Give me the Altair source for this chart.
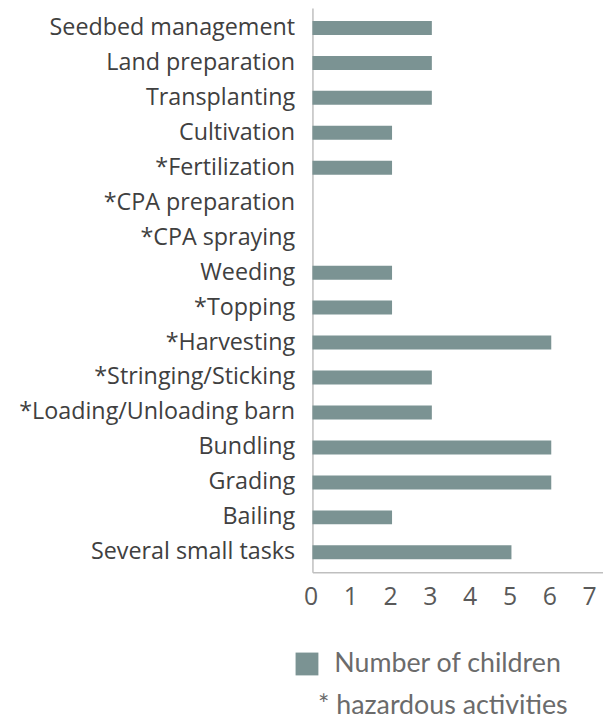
import altair as alt
import pandas as pd

tasks = ["Seedbed management", "Land preparation", "Transplanting", "Cultivation",
         "*Fertilization", "*CPA preparation", "*CPA spraying", "Weeding", "*Topping",
         "*Harvesting", "*Stringing/Sticking", "*Loading/Unloading barn", "Bundling",
         "Grading", "Bailing", "Several small tasks"]
children = [3, 3, 3, 2, 2, 0, 0, 2, 2, 6, 3, 3, 6, 6, 2, 5]
series = ["Number of children"] * len(tasks)
x_ticks = [0, 1, 2, 3, 4, 5, 6, 7]

df = pd.DataFrame({"task": tasks, "value": children, "series": series})

AXFONT = "Open Sans"
LGFONT = "Lato"

chart = alt.Chart(df).mark_bar(color="#7b9393").encode(
    y=alt.Y("task:N", sort=tasks, title=None,
            scale=alt.Scale(paddingInner=0.6, paddingOuter=0.37),
            axis=alt.Axis(labelFont=AXFONT, labelFontSize=23.5, labelColor="#404040",
                          labelPadding=18, ticks=False, domainColor="#bfbfbf",
                          domainWidth=1.5, minExtent=307, maxExtent=307, labelLimit=400)),
    x=alt.X("value:Q", title=None,
            scale=alt.Scale(domain=[0, 7.3], nice=False),
            axis=alt.Axis(values=x_ticks, labelFont=AXFONT, labelFontSize=25,
                          labelColor="#595959", labelPadding=13, ticks=False,
                          grid=False, domainColor="#bfbfbf", domainWidth=1.5,
                          labelFlush=False, labelOffset=-2)),
    fill=alt.Fill("series:N", scale=alt.Scale(range=["#7b9393"]),
                  legend=alt.Legend(title=None, orient="none", legendX=-19, legendY=648,
                                    symbolType="square", symbolSize=530,
                                    symbolStrokeWidth=0, labelFont=LGFONT,
                                    labelFontSize=27, labelColor="#6b6b6b",
                                    labelOffset=14, labelLimit=400)),
).properties(
    width=293, height=569,
    padding={"left": 0, "top": -3, "right": 0, "bottom": 0},
    title=alt.Title("* hazardous activities", orient="bottom", anchor="middle",
                    font=LGFONT, fontSize=27, fontWeight="normal", color="#6b6b6b",
                    dx=-15, offset=16),
).configure_view(stroke=None)

chart.save("out.html", embed_options={"renderer": "svg", "actions": False})
